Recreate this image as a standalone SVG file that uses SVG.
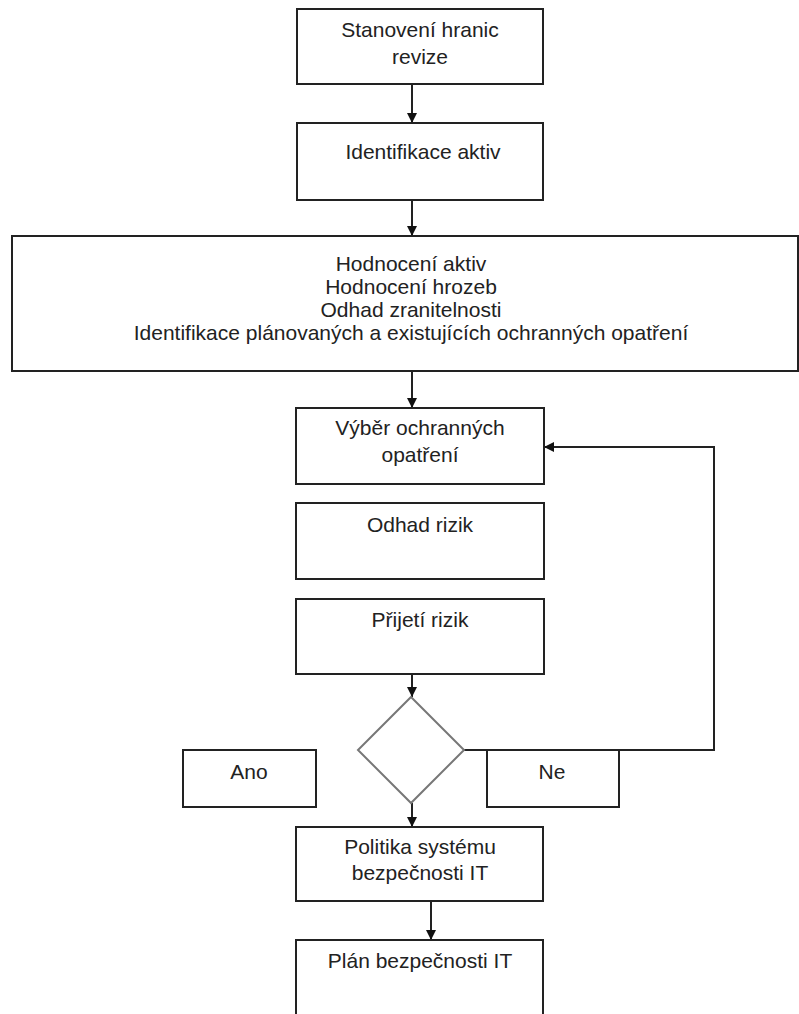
<svg xmlns="http://www.w3.org/2000/svg" width="799" height="1014" viewBox="0 0 799 1014">
<style>
.box{fill:#fff;stroke:#222;stroke-width:2}
.dia{fill:#fff;stroke:#777;stroke-width:2}
.t{font-family:"Liberation Sans",Arial,sans-serif;font-size:21px;fill:#222;text-anchor:middle}
.c{fill:none;stroke:#222;stroke-width:2}
</style>
<defs>
<marker id="ah" viewBox="0 0 10 10" refX="10" refY="5" markerWidth="10" markerHeight="10" markerUnits="userSpaceOnUse" orient="auto">
<path d="M0,0 L10,5 L0,10 Z" fill="#111"/>
</marker>
</defs>
<rect width="799" height="1014" fill="#fff"/>
<g id="connectors">
<line class="c" x1="412" y1="84" x2="412" y2="123" marker-end="url(#ah)"/>
<line class="c" x1="412" y1="200" x2="412" y2="236" marker-end="url(#ah)"/>
<line class="c" x1="412" y1="371" x2="412" y2="408" marker-end="url(#ah)"/>
<line class="c" x1="412" y1="674" x2="412" y2="697" marker-end="url(#ah)"/>
<polyline class="c" points="464,750 714,750 714,447 544,447" marker-end="url(#ah)"/>
<line class="c" x1="412" y1="803" x2="412" y2="827" marker-end="url(#ah)"/>
<line class="c" x1="431" y1="901" x2="431" y2="940" marker-end="url(#ah)"/>
</g>
<g id="n1"><rect class="box" x="297" y="9" width="246" height="75"/><text class="t" x="420" y="37">Stanovení hranic</text><text class="t" x="420" y="64">revize</text></g>
<g id="n2"><rect class="box" x="297" y="123" width="246" height="77"/><text class="t" x="423" y="159">Identifikace aktiv</text></g>
<g id="n3"><rect class="box" x="12" y="236" width="786" height="135"/>
<text class="t" x="411" y="271">Hodnocení aktiv</text>
<text class="t" x="411" y="294">Hodnocení hrozeb</text>
<text class="t" x="411" y="317">Odhad zranitelnosti</text>
<text class="t" x="411" y="340">Identifikace plánovaných a existujících ochranných opatření</text></g>
<g id="n4"><rect class="box" x="296" y="408" width="248" height="76"/><text class="t" x="420" y="435">Výběr ochranných</text><text class="t" x="420" y="462">opatření</text></g>
<g id="n5"><rect class="box" x="296" y="503" width="248" height="76"/><text class="t" x="420" y="532">Odhad rizik</text></g>
<g id="n6"><rect class="box" x="296" y="599" width="248" height="75"/><text class="t" x="420" y="627">Přijetí rizik</text></g>
<g id="n7"><polygon class="dia" points="411,697 464,750 411,803 358,750"/></g>
<g id="n8"><rect class="box" x="183" y="750" width="133" height="57"/><text class="t" x="249" y="779">Ano</text></g>
<g id="n9"><rect class="box" x="487" y="750" width="132" height="57"/><text class="t" x="552" y="779">Ne</text></g>
<g id="n10"><rect class="box" x="296" y="827" width="247" height="74"/><text class="t" x="420" y="854">Politika systému</text><text class="t" x="420" y="880">bezpečnosti IT</text></g>
<g id="n11"><rect class="box" x="296" y="940" width="247" height="80"/><text class="t" x="420" y="968">Plán bezpečnosti IT</text></g>
</svg>
